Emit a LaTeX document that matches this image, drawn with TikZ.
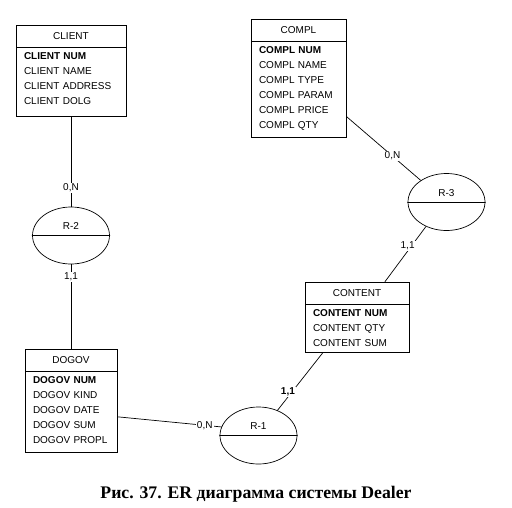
\documentclass[tikz,border=0pt]{standalone}
\usepackage{fontspec}
\setmainfont{Liberation Sans}
\newfontfamily\captionfont{Liberation Serif}
\usetikzlibrary{shapes.geometric,positioning}

\begin{document}
\begin{tikzpicture}
  [x=1pt,y=-1pt,line cap=round,line width=0.7pt,
  % Styles
  entity head/.style={draw,minimum width=#1,minimum height=22pt,inner sep=0pt,font=\erfont},
  entity body/.style={draw,text width=#1,inner xsep=8pt,inner ysep=5.3pt,align=left,font=\erfont},
  relation/.style={ellipse,draw,minimum width=77pt,minimum height=57pt,inner sep=0pt},
  every label/.style={font=\erfont,inner sep=0pt},
  cardinality/.style={fill=white,inner sep=1pt,font=\erfont}]
  % Local definitions
  \def\erfont{\fontsize{10}{15}\selectfont}
  \def\attrtail#1{\rule[-#1pt]{0pt}{#1pt}}
  \useasboundingbox (0,0) rectangle (512,507);
  % Entities
  \node[entity head=110pt] (clienth) at (71,36) {CLIENT};
  \node[entity body=94pt,below=-0.7pt of clienth] (client)
    {\textbf{CLIENT NUM}\\CLIENT NAME\\CLIENT ADDRESS\\CLIENT DOLG\attrtail{7}};
  \node[entity head=95pt] (complh) at (298.5,30.5) {COMPL};
  \node[entity body=79pt,below=-0.7pt of complh] (compl)
    {\textbf{COMPL NUM}\\COMPL NAME\\COMPL TYPE\\COMPL PARAM\\COMPL PRICE\\COMPL QTY\attrtail{3}};
  \node[entity head=104pt] (contenth) at (357,293) {CONTENT};
  \node[entity body=88pt,below=-0.7pt of contenth] (content)
    {\textbf{CONTENT NUM}\\CONTENT QTY\\CONTENT SUM\attrtail{1}};
  \node[entity head=92pt] (dogovh) at (71,360.5) {DOGOV};
  \node[entity body=76pt,below=-0.7pt of dogovh] (dogov)
    {\textbf{DOGOV NUM}\\DOGOV KIND\\DOGOV DATE\\DOGOV SUM\\DOGOV PROPL\attrtail{3}};
  % Relations
  \node[relation,label={[yshift=9pt]center:R-2}] (r2) at (71,235.5) {};
  \node[relation,label={[yshift=9pt]center:R-3}] (r3) at (446.5,202) {};
  \node[relation,label={[yshift=9pt]center:R-1}] (r1) at (258.5,435.5) {};
  \foreach \r in {r1,r2,r3}
    \draw (\r.west) -- (\r.east);
  % Connectors
  \draw (client.south) -- node[cardinality,pos=.79] {0,N} (r2.north);
  \draw (r2.south) -- node[cardinality,pos=.15] {1,1} (dogovh.north);
  \draw ([yshift=-5pt]dogov.east) -- node[cardinality,pos=.84] {0,N} (r1.167);
  \draw ([xshift=18pt]content.south west)
    -- node[cardinality,pos=.68,xshift=-4pt,font=\erfont\bfseries] {1,1} (r1.53);
  \draw ([yshift=21pt]compl.south east) -- node[cardinality,pos=.62] {0,N} (r3.140);
  \draw (r3.230) -- node[cardinality,pos=.35,xshift=-4pt] {1,1} ([xshift=28pt]contenth.north);
  % Caption
  \node[font=\captionfont\bfseries\fontsize{17.7}{20}\selectfont] (caption) at (256,494)
    {Рис. 37. ER диаграмма системы Dealer};
\end{tikzpicture}
\end{document}
